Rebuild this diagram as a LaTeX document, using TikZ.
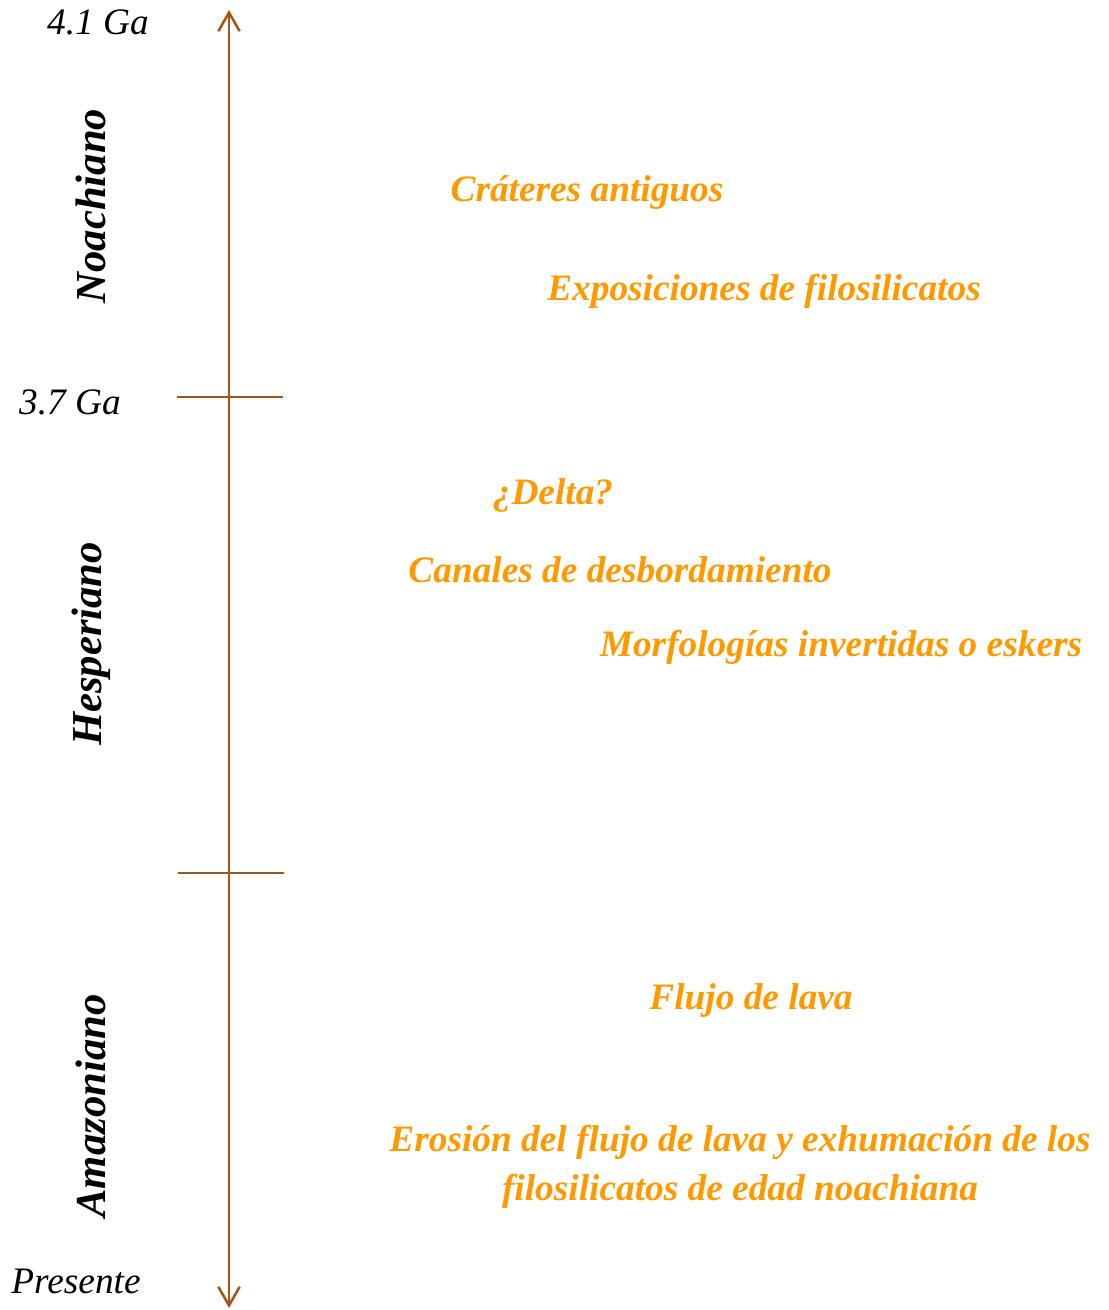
\documentclass[tikz,border=0pt]{standalone}
\usepackage{fontspec}
\setmainfont{Liberation Serif}
\usetikzlibrary{arrows.meta}
\definecolor{axisbrown}{HTML}{A3541A}
\definecolor{evorange}{HTML}{FF9900}
\tikzset{
  axisline/.style={draw=axisbrown, line width=1.9pt},
  event/.style={text=evorange, font=\fontsize{28}{37}\selectfont\bfseries\itshape, inner sep=0pt, align=center},
  agelabel/.style={text=black, font=\fontsize{28}{32}\selectfont\itshape, inner sep=0pt},
  eralabel/.style={text=black, font=\fontsize{32}{36}\selectfont\bfseries\itshape, inner sep=0pt, rotate=90},
}
\begin{document}
\begin{tikzpicture}[x=0.75pt,y=-0.75pt]
\useasboundingbox (0,0) rectangle (1108,1310);
% axis
\coordinate (top) at (229,10);
\coordinate (bot) at (229,1308);
\draw[axisline, {Straight Barb[length=14pt,width=16pt]}-{Straight Barb[length=14pt,width=16pt]}] (top) -- (bot);
% ticks
\coordinate (t1l) at (177,397);
\coordinate (t1r) at (283,397);
\coordinate (t2l) at (178,873);
\coordinate (t2r) at (284,873);
\draw[axisline] (t1l) -- (t1r);
\draw[axisline] (t2l) -- (t2r);
% age labels
\node[agelabel] (a41) at (98,22) {4.1 Ga};
\node[agelabel] (a37) at (70,402) {3.7 Ga};
\node[agelabel] (apr) at (76,1281) {Presente};
% eras
\node[eralabel] (noa) at (91,206) {Noachiano};
\node[eralabel] (hes) at (91,644) {Hesperiano};
\node[eralabel] (ama) at (91,1106) {Amazoniano};
% events
\node[event] (e1) at (587,192) {Cráteres antiguos};
\node[event] (e2) at (764,291) {Exposiciones de filosilicatos};
\node[event] (e3) at (553,495) {¿Delta?};
\node[event] (e4) at (620,570) {Canales de desbordamiento};
\node[event] (e5) at (841,647) {Morfologías invertidas o eskers};
\node[event] (e6) at (751,1001) {Flujo de lava};
\node[event] (e7) at (740,1167) {Erosión del flujo de lava y exhumación de los\\filosilicatos de edad noachiana};
\end{tikzpicture}
\end{document}
